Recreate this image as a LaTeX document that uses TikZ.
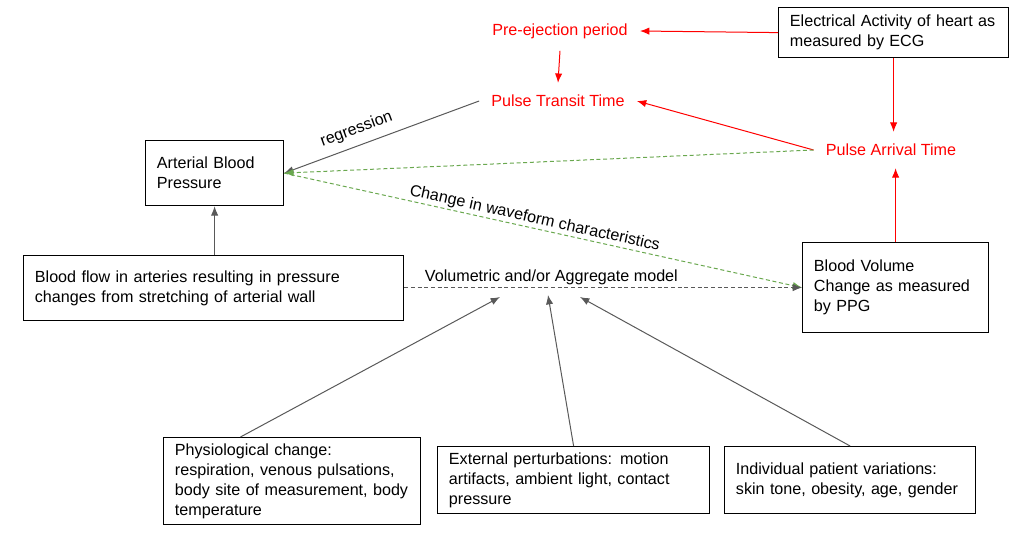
\documentclass[tikz,border=0pt]{standalone}
\usepackage{fontspec}
\setmainfont{Liberation Sans}
\usetikzlibrary{arrows.meta,calc,positioning}
\definecolor{ppgred}{RGB}{255,0,0}
\definecolor{ppggray}{RGB}{89,89,89}
\definecolor{ppggreen}{RGB}{106,168,79}
\newcommand{\ppgfont}{\fontsize{12.1}{15}\selectfont}

\begin{document}
\begin{tikzpicture}[x=0.75pt,y=-0.75pt,>={Latex[length=7pt,width=5.5pt]}]
\tikzstyle{box}=[rectangle, draw=black, line width=0.9pt, anchor=north west, align=left, inner xsep=8.5pt, inner ysep=0pt, font=\ppgfont]
\tikzstyle{timing}=[text=ppgred, inner sep=9pt, font=\ppgfont]
\tikzstyle{edgetext}=[text=black, inner sep=1pt, font=\ppgfont]
\tikzstyle{redline}=[ppgred, line width=0.75pt]
\tikzstyle{grayline}=[ppggray, line width=0.75pt]
\tikzstyle{greenline}=[ppggreen, line width=0.75pt, dash pattern=on 3pt off 2pt]
\tikzstyle{modelline}=[grayline, dash pattern=on 3pt off 2pt]

  \useasboundingbox (0,0) rectangle (1031,533);

  % boxes
  \node[box, text width=155.5pt, minimum height=37.5pt]  (ecg)  at (778,7)   {Electrical Activity of heart as\\measured by ECG};
  \node[box, text width=86.5pt,  minimum height=48.75pt] (abp)  at (145,140) {Arterial Blood\\Pressure};
  \node[box, text width=268pt,   minimum height=48.75pt] (flow) at (23,255)  {Blood flow in arteries resulting in pressure\\changes from stretching of arterial wall};
  \node[box, text width=122.5pt, minimum height=67.5pt]  (bv)   at (802,242) {Blood Volume\\Change as measured\\by PPG};
  \node[box, text width=175.75pt,minimum height=65.25pt] (phys) at (163,437) {Physiological change:\\respiration, venous pulsations,\\body site of measurement, body\\temperature};
  \node[box, text width=187pt,   minimum height=50.25pt] (ext)  at (437,446) {External perturbations: motion\\artifacts, ambient light, contact\\pressure};
  \node[box, text width=171.25pt,minimum height=50.25pt] (ind)  at (724,446) {Individual patient variations:\\skin tone, obesity, age, gender};

  % timing labels
  \node[timing] (pep) at (560,31)  {Pre-ejection period};
  \node[timing] (ptt) at (558,101) {Pulse Transit Time};
  \node[timing] (pat) at (891,150) {Pulse Arrival Time};

  \coordinate (modelL) at (500,297);
  \coordinate (modelC) at (548,295);
  \coordinate (modelR) at (580,297);

  % red timing arrows
  \draw[redline,->] (ecg.west) -- (pep.east);
  \draw[redline,->] (pep.south) -- (ptt.north);
  \draw[redline,->] (ecg.south) -- (ecg.south |- pat.north);
  \draw[redline,->] (pat.west) -- (ptt.east);
  \draw[redline,->] (bv.north) -- (bv.north |- pat.south);

  % pressure
  \draw[grayline,<-] (abp.east) -- node[edgetext, above=5pt, sloped, pos=0.4] {regression} (ptt.west);
  \draw[grayline,->] (flow.north -| abp.south) -- (abp.south);
  \draw[greenline,->] (pat.west) -- (abp.east);
  \draw[greenline,->] (abp.east) -- node[edgetext, above, sloped, pos=0.48] {Change in waveform characteristics} (bv.west);
  \draw[modelline,->] (flow.east |- bv.west) -- node[edgetext, above=1pt, pos=0.37] {Volumetric and/or Aggregate model} (bv.west);

  % disturbances
  \draw[grayline,->] ($(phys.north west)!0.3!(phys.north east)$) -- (modelL);
  \draw[grayline,->] (ext.north) -- (modelC);
  \draw[grayline,->] (ind.north) -- (modelR);

\end{tikzpicture}
\end{document}
